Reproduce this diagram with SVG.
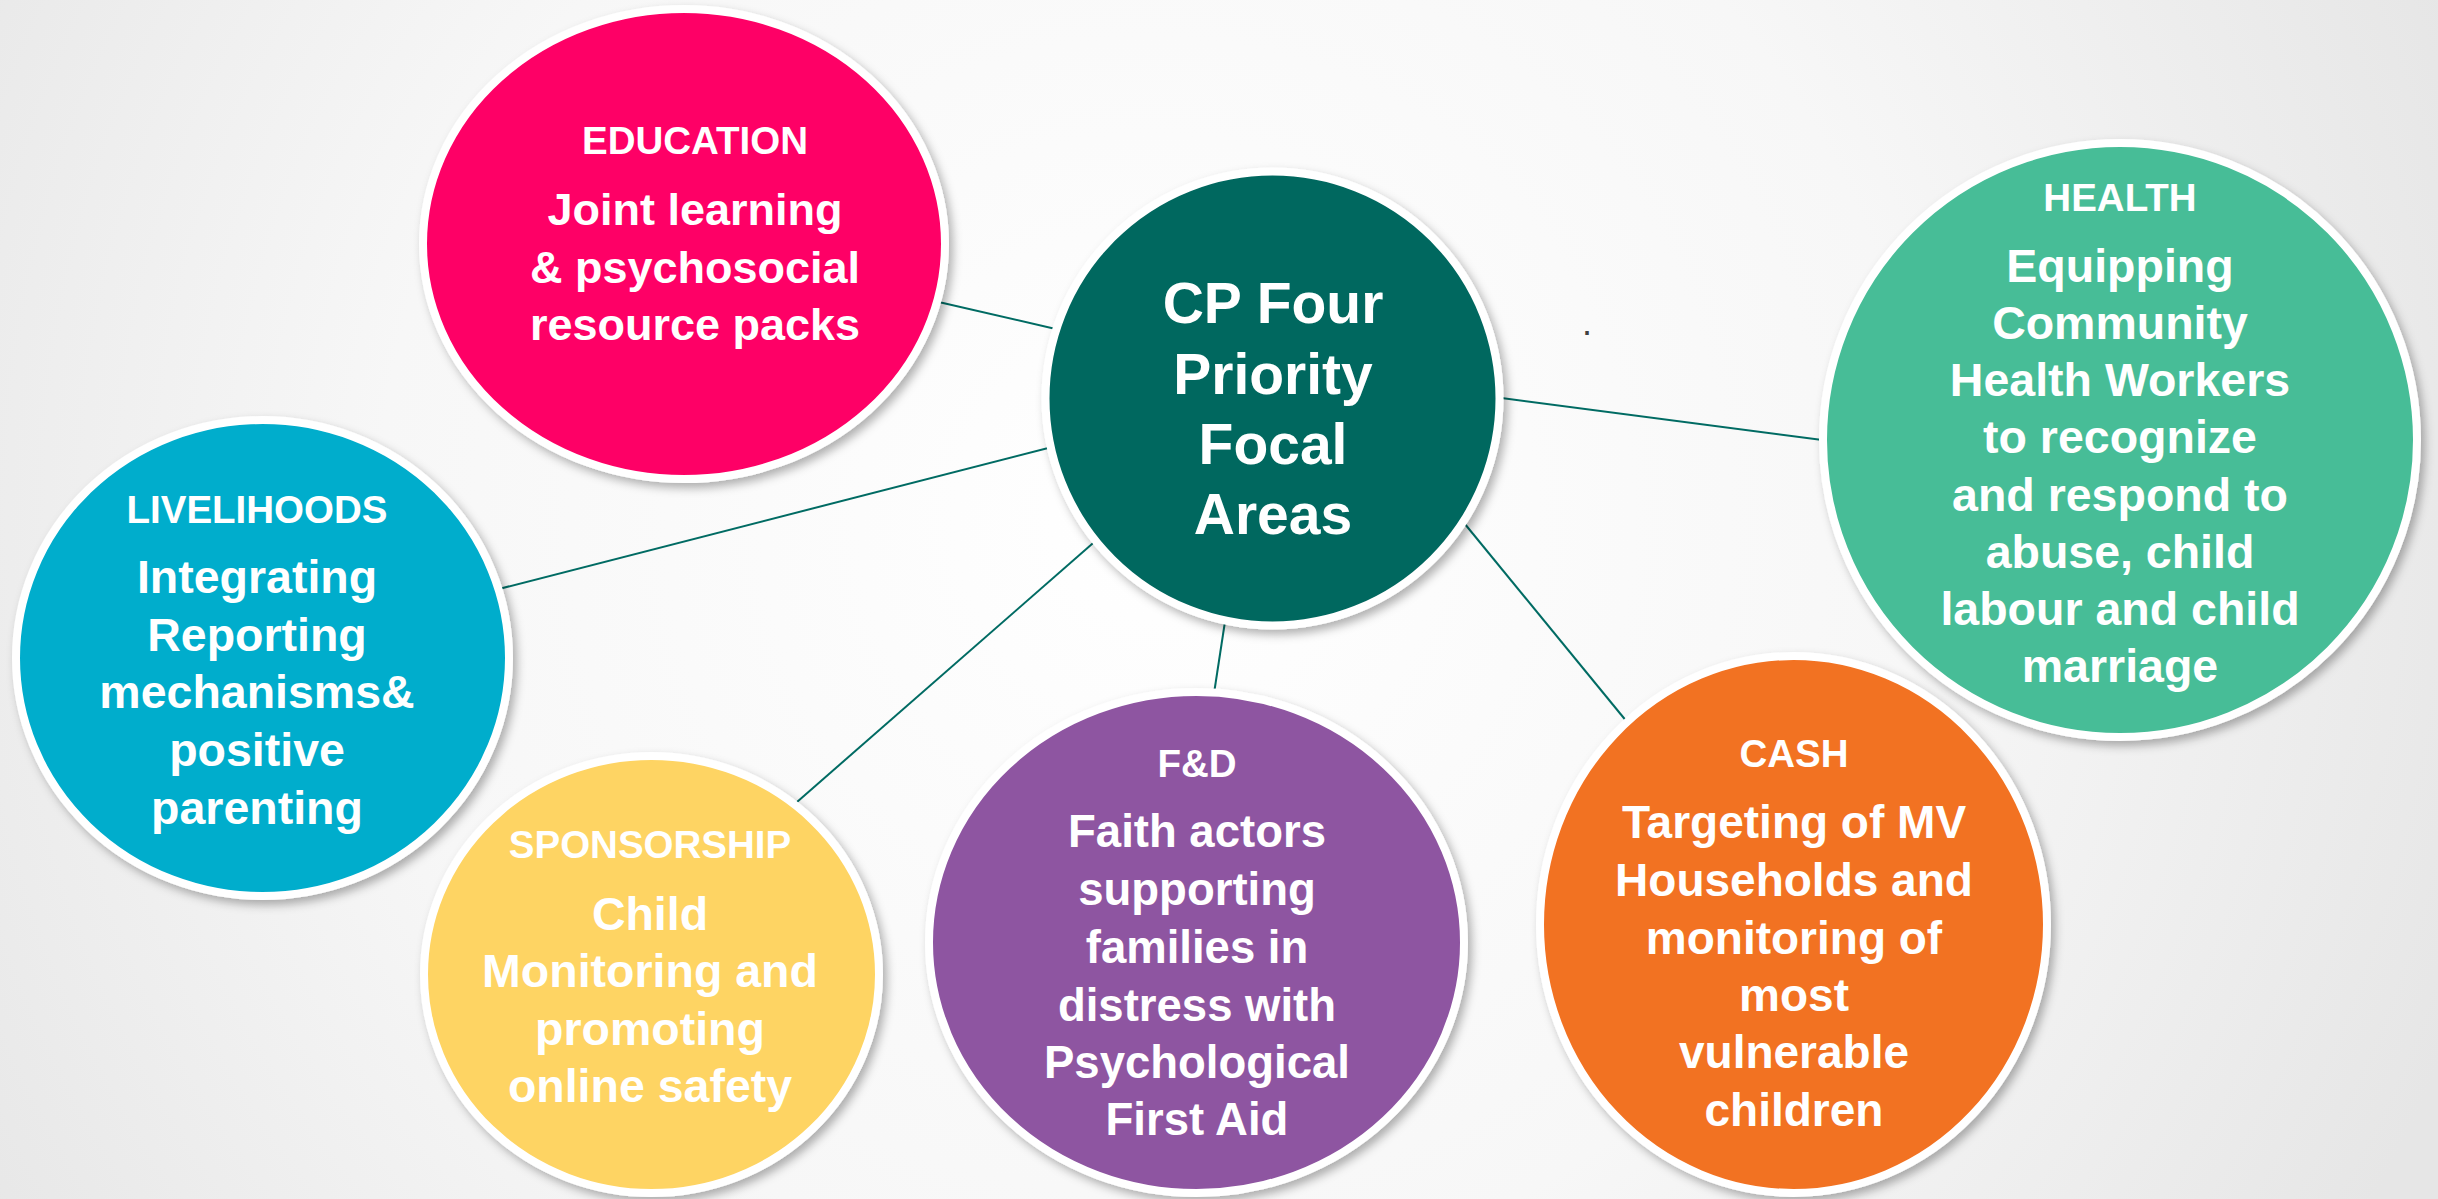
<svg xmlns="http://www.w3.org/2000/svg" width="2438" height="1199" viewBox="0 0 2438 1199">
  <defs>
    <radialGradient id="bg" cx="1150" cy="520" r="1400" gradientUnits="userSpaceOnUse">
      <stop offset="0" stop-color="#ffffff"/>
      <stop offset="0.55" stop-color="#f7f7f7"/>
      <stop offset="1" stop-color="#e6e6e6"/>
    </radialGradient>
    <filter id="sh" x="-10%" y="-10%" width="125%" height="125%">
      <feDropShadow dx="4" dy="5" stdDeviation="5" flood-color="#000000" flood-opacity="0.3"/>
    </filter>
  </defs>
  <style>
    .ring { stroke: #ffffff; stroke-width: 8; filter: url(#sh); }
    .hd { font-family: "Liberation Sans", Arial, sans-serif; font-weight: bold; font-size: 38.5px; fill: #ffffff; text-anchor: middle; }
    .bd { font-family: "Liberation Sans", Arial, sans-serif; font-weight: bold; font-size: 46.5px; fill: #ffffff; text-anchor: middle; }
    .ct { font-family: "Liberation Sans", Arial, sans-serif; font-weight: bold; font-size: 57px; fill: #ffffff; text-anchor: middle; }
    .conn { stroke: #006b63; stroke-width: 2; fill: none; }
  </style>

  <rect x="0" y="0" width="2438" height="1199" fill="url(#bg)"/>

  <g id="connectors">
    <line class="conn" x1="930" y1="300" x2="1060" y2="330"/>
    <line class="conn" x1="495" y1="590" x2="1056" y2="446"/>
    <line class="conn" x1="797" y1="802" x2="1100" y2="537"/>
    <line class="conn" x1="1213" y1="700" x2="1226" y2="615"/>
    <line class="conn" x1="1460" y1="518" x2="1632" y2="728"/>
    <line class="conn" x1="1494" y1="397" x2="1830" y2="441"/>
  </g>

  <text x="1587" y="335" font-family="Liberation Sans, Arial, sans-serif" font-size="36" fill="#404040" text-anchor="middle">.</text>

  <g id="education">
    <ellipse class="ring" cx="684" cy="244" rx="261" ry="235" fill="#fe0066"/>
    <text class="hd" x="695" y="154">EDUCATION</text>
    <text class="bd" x="695" y="225" style="font-size:45px">Joint learning</text>
    <text class="bd" x="695" y="283" style="font-size:45px">&amp; psychosocial</text>
    <text class="bd" x="695" y="340" style="font-size:45px">resource packs</text>
  </g>

  <g id="center">
    <circle class="ring" cx="1272.5" cy="398.5" r="227" fill="#02675f"/>
    <text class="ct" x="1273" y="323">CP Four</text>
    <text class="ct" x="1273" y="394">Priority</text>
    <text class="ct" x="1273" y="464">Focal</text>
    <text class="ct" x="1273" y="534">Areas</text>
  </g>

  <g id="health">
    <circle class="ring" cx="2120" cy="440" r="297" fill="#47bd97"/>
    <text class="hd" x="2120" y="211">HEALTH</text>
    <text class="bd" x="2120" y="282">Equipping</text>
    <text class="bd" x="2120" y="339">Community</text>
    <text class="bd" x="2120" y="396">Health Workers</text>
    <text class="bd" x="2120" y="453">to recognize</text>
    <text class="bd" x="2120" y="511">and respond to</text>
    <text class="bd" x="2120" y="568">abuse, child</text>
    <text class="bd" x="2120" y="625">labour and child</text>
    <text class="bd" x="2120" y="682">marriage</text>
  </g>

  <g id="livelihoods">
    <ellipse class="ring" cx="262.5" cy="658" rx="246.5" ry="238" fill="#02adcc"/>
    <text class="hd" x="257" y="523">LIVELIHOODS</text>
    <text class="bd" x="257" y="593">Integrating</text>
    <text class="bd" x="257" y="651">Reporting</text>
    <text class="bd" x="257" y="708">mechanisms&amp;</text>
    <text class="bd" x="257" y="766">positive</text>
    <text class="bd" x="257" y="824">parenting</text>
  </g>

  <g id="sponsorship">
    <ellipse class="ring" cx="651.5" cy="974.5" rx="227.5" ry="218.5" fill="#fed463"/>
    <text class="hd" x="650" y="858">SPONSORSHIP</text>
    <text class="bd" x="650" y="930">Child</text>
    <text class="bd" x="650" y="987">Monitoring and</text>
    <text class="bd" x="650" y="1045">promoting</text>
    <text class="bd" x="650" y="1102">online safety</text>
  </g>

  <g id="faith-development">
    <ellipse class="ring" cx="1196.5" cy="942.5" rx="267.5" ry="250.5" fill="#8e55a1"/>
    <text class="hd" x="1197" y="777">F&amp;D</text>
    <text class="bd" x="1197" y="847" style="font-size:45.5px">Faith actors</text>
    <text class="bd" x="1197" y="905" style="font-size:45.5px">supporting</text>
    <text class="bd" x="1197" y="963" style="font-size:45.5px">families in</text>
    <text class="bd" x="1197" y="1021" style="font-size:45.5px">distress with</text>
    <text class="bd" x="1197" y="1078" style="font-size:45.5px">Psychological</text>
    <text class="bd" x="1197" y="1135" style="font-size:45.5px">First Aid</text>
  </g>

  <g id="cash">
    <ellipse class="ring" cx="1793.5" cy="924.5" rx="253.5" ry="268.5" fill="#f27222"/>
    <text class="hd" x="1794" y="767">CASH</text>
    <text class="bd" x="1794" y="838" style="font-size:46px">Targeting of MV</text>
    <text class="bd" x="1794" y="896" style="font-size:46px">Households and</text>
    <text class="bd" x="1794" y="954" style="font-size:46px">monitoring of</text>
    <text class="bd" x="1794" y="1011" style="font-size:46px">most</text>
    <text class="bd" x="1794" y="1068" style="font-size:46px">vulnerable</text>
    <text class="bd" x="1794" y="1126" style="font-size:46px">children</text>
  </g>
</svg>
